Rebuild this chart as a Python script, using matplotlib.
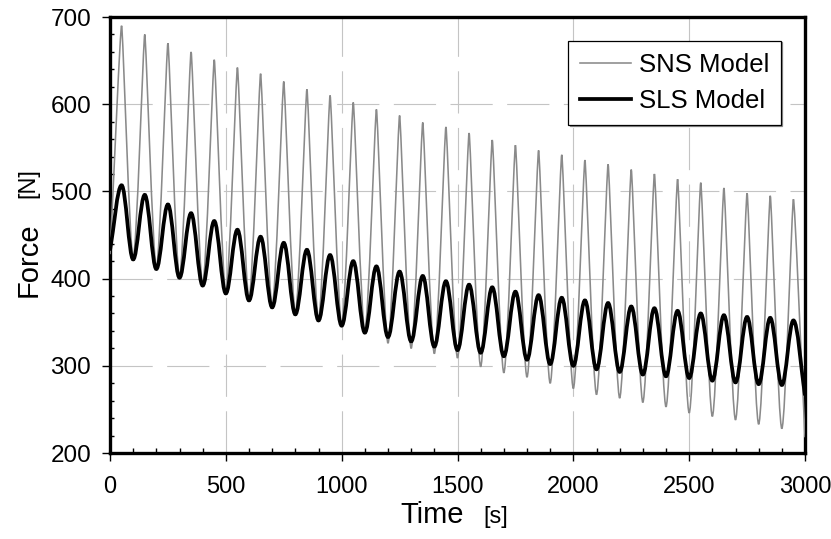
import numpy as np
import matplotlib
matplotlib.use("Agg")
import matplotlib.pyplot as plt
from matplotlib.path import Path
from matplotlib.patches import PathPatch
from matplotlib.ticker import MultipleLocator

plt.rcParams['font.family'] = ['Liberation Sans', 'DejaVu Sans']

# ---------------- data ----------------
t_start, t_end = 0, 3000
peak_times = np.arange(50, 3000, 100)          # one peak per 100 s cycle
trough_times = np.arange(100, 3000, 100)       # troughs between peaks

sns_start, sns_end = 428, 218
sns_peaks = [690, 680, 670, 660, 651, 642, 635, 626, 617, 610,
             602, 594, 587, 579, 574, 567, 559, 553, 547, 542,
             536, 531, 525, 520, 514, 510, 504, 498, 495, 491]
sns_troughs = [424, 413, 403, 394, 385, 377, 369, 361, 354, 347,
               340, 326, 320, 314, 309, 299, 292, 287, 280, 274,
               267, 263, 258, 253, 246, 242, 238, 233, 228]

sls_start, sls_end = 432, 266
sls_peaks = [507, 496, 485, 475, 466, 456, 448, 441, 433, 427,
             420, 414, 408, 403, 397, 393, 390, 385, 381, 378,
             375, 372, 368, 366, 363, 360, 358, 356, 355, 352]
sls_troughs = [422, 411, 401, 392, 383, 375, 367, 359, 352, 346,
               338, 333, 328, 322, 318, 315, 311, 307, 302, 300,
               296, 293, 290, 288, 286, 283, 281, 279, 278]

xticks = [0, 500, 1000, 1500, 2000, 2500, 3000]
yticks = [200, 300, 400, 500, 600, 700]
series_labels = ["SNS Model", "SLS Model"]


def extrema_sequence(start, peaks, troughs, end):
    ts, vs, kind = [t_start], [start], ['edge']
    for i, p in enumerate(peaks):
        ts.append(peak_times[i]); vs.append(p); kind.append('peak')
        if i < len(troughs):
            ts.append(trough_times[i]); vs.append(troughs[i]); kind.append('trough')
    ts.append(t_end); vs.append(end); kind.append('edge')
    return np.array(ts, float), np.array(vs, float), kind


def smooth_path(ts, vs, kind, c_peak, c_trough):
    verts = [(ts[0], vs[0])]
    codes = [Path.MOVETO]
    n = len(ts)
    for i in range(n - 1):
        ta, ya, tb, yb = ts[i], vs[i], ts[i + 1], vs[i + 1]
        d = tb - ta
        ca = c_peak if kind[i] == 'peak' else c_trough
        cb = c_peak if kind[i + 1] == 'peak' else c_trough
        if kind[i] == 'edge':
            p1 = (ta + d / 3, ya + (yb - ya) / 3)
        else:
            p1 = (ta + ca * d, ya)
        if kind[i + 1] == 'edge':
            p2 = (tb - d / 3, yb - (yb - ya) / 3)
        else:
            p2 = (tb - cb * d, yb)
        verts += [p1, p2, (tb, yb)]
        codes += [Path.CURVE4] * 3
    return Path(verts, codes)


# ---------------- figure ----------------
W, H = 831, 539
fig = plt.figure(figsize=(W / 100, H / 100), dpi=100)
ax_l, ax_r, ax_t, ax_b = 110, 805, 17, 453
ax = fig.add_axes([ax_l / W, 1 - ax_b / H, (ax_r - ax_l) / W, (ax_b - ax_t) / H])

ax.set_xlim(0, 3000)
ax.set_ylim(200, 700)

sns_color = '#8a8a8a'
sns_lw = 1.15
sls_lw = 2.7

ts, vs, kind = extrema_sequence(sns_start, sns_peaks, sns_troughs, sns_end)
ax.add_patch(PathPatch(smooth_path(ts, vs, kind, 0.12, 0.30), facecolor='none',
                       edgecolor=sns_color, lw=sns_lw, zorder=3))
ax.plot([], [], color=sns_color, lw=sns_lw, label=series_labels[0])

ts2, vs2, kind2 = extrema_sequence(sls_start, sls_peaks, sls_troughs, sls_end)
ax.add_patch(PathPatch(smooth_path(ts2, vs2, kind2, 0.364, 0.364), facecolor='none',
                       edgecolor='black', lw=sls_lw, zorder=4))
ax.plot([], [], color='black', lw=sls_lw, label=series_labels[1])

# grid
ax.set_xticks(xticks)
ax.set_yticks(yticks)
ax.xaxis.set_minor_locator(MultipleLocator(100))
ax.yaxis.set_minor_locator(MultipleLocator(20))
ax.grid(True, which='major', color='#c4c4c4', lw=0.8,
        linestyle=(0, (38, 13)), zorder=0)
ax.set_axisbelow(True)

for s in ax.spines.values():
    s.set_linewidth(2.4)
    s.set_color('black')

ax.tick_params(axis='x', which='major', direction='out', length=5.5, width=1.0,
               labelsize=17, pad=11)
ax.tick_params(axis='x', which='minor', direction='in', length=3.5, width=1.0)
ax.tick_params(axis='y', which='major', direction='out', length=6, width=1.0,
               labelsize=17.5, pad=7.5)
ax.tick_params(axis='y', which='minor', direction='in', length=3, width=1.0)
ax.set_xticklabels([str(v) for v in xticks])
ax.set_yticklabels([str(v) for v in yticks])

# axis labels
fig.text(400 / W, 1 - 523 / H, "Time", fontsize=21, ha='left', va='baseline')
fig.text(483 / W, 1 - 523 / H, "[s]", fontsize=17, ha='left', va='baseline')
fig.text(37 / W, 1 - 297 / H, "Force", fontsize=21, rotation=90,
         rotation_mode='anchor', ha='left', va='baseline')
fig.text(34 / W, 1 - 198 / H, "[N]", fontsize=17, rotation=90,
         rotation_mode='anchor', ha='left', va='baseline')

leg = ax.legend(loc='upper right', bbox_to_anchor=((781 - ax_l) / (ax_r - ax_l),
                                                   (ax_b - 41) / (ax_b - ax_t)),
                borderaxespad=0, fontsize=18.5, frameon=True, fancybox=False,
                edgecolor='black', framealpha=1, handlelength=2.0,
                handletextpad=0.3, labelspacing=0.5, borderpad=0.45,
                shadow={'ox': 1, 'oy': -1, 'color': '0.55', 'alpha': 1})
leg.get_frame().set_linewidth(0.9)

fig.savefig("out.png", dpi=100)
